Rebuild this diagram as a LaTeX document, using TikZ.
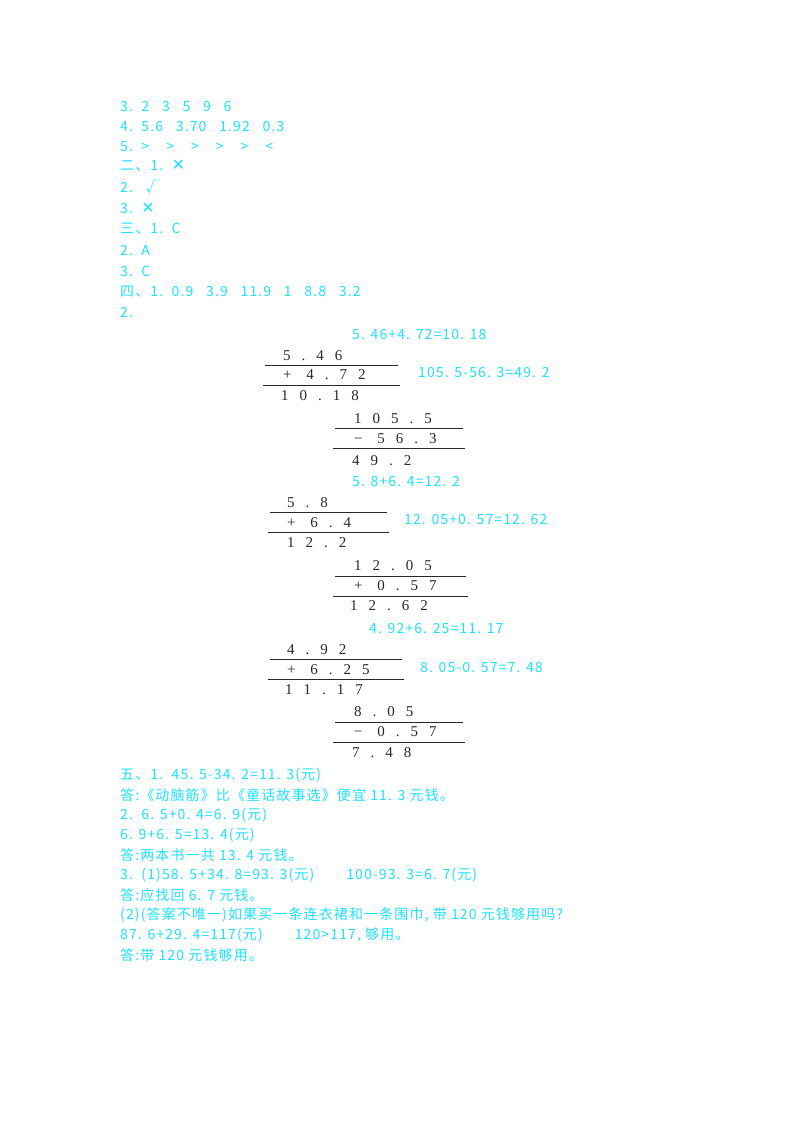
\documentclass[tikz,border=0pt]{standalone}
\usepackage{fontspec}
\setmainfont{Liberation Serif}
\newfontfamily\cjk[LetterSpace=8]{Noto Sans CJK SC}
\newfontfamily\djv{DejaVu Sans}
\definecolor{cy}{RGB}{30,225,255}
\definecolor{dk}{RGB}{40,40,40}
\newcommand{\g}{\hspace{11pt}}
\newcommand{\xx}{{\djv\fontsize{16}{16}\selectfont\textbf{✕}}}
\begin{document}
\begin{tikzpicture}[x=1pt,y=-1pt,
  t/.style={anchor=west,inner sep=0pt,text=cy,font=\cjk\fontsize{14}{14}\selectfont},
  d/.style={anchor=west,inner sep=0pt,text=dk,font=\fontsize{15}{15}\selectfont},
  r/.style={dk,line width=0.9pt}]
\useasboundingbox (0,0) rectangle (800,1132);
\node[t] (l1) at (120,107) {3.\ \ 2\ \ \ 3\ \ \ 5\ \ \ 9\ \ \ 6};
\node[t] (l2) at (120,127) {4.\ \ 5.6\ \ \ 3.70\ \ \ 1.92\ \ \ 0.3};
\node[t] (l3) at (120,147) {5.\ \ >\ \ \ \ >\ \ \ \ >\ \ \ \ >\ \ \ \ >\ \ \ \ <};
\node[t] (l4) at (120,166) {二、1.\ \ \xx};
\node[t] (l5) at (120,187) {2.\ \ \ √};
\node[t] (l6) at (120,208) {3.\ \ \xx};
\node[t] (l7) at (120,229) {三、1.\ \ C};
\node[t] (l8) at (120,250) {2.\ \ A};
\node[t] (l9) at (120,271) {3.\ \ C};
\node[t] (l10) at (120,292) {四、1.\ \ 0.9\ \ \ 3.9\ \ \ 11.9\ \ \ 1\ \ \ 8.8\ \ \ 3.2};
\node[t] (l11) at (120,313) {2.};
% block 1
\node[t] (a0) at (352,335) {5. 46+4. 72=10. 18};
\node[d] (a1) at (283,356) {5\g.\g4\g6};
\draw[r] (265,365) -- (398,365);
\node[d] (a2) at (283,375) {+\g\ 4\g.\g7\g2};
\draw[r] (263,385) -- (400,385);
\node[d] (a3) at (281,396) {1\g0\g.\g1\g8};
\node[t] (b0) at (418,373) {105. 5-56. 3=49. 2};
\node[d] (b1) at (354,419) {1\g0\g5\g.\g5};
\draw[r] (335,428) -- (463,428);
\node[d] (b2) at (354,439) {−\g\ 5\g6\g.\g3};
\draw[r] (333,448) -- (465,448);
\node[d] (b3) at (352,461) {4\g9\g.\g2};
% block 3
\node[t] (c0) at (352,482) {5. 8+6. 4=12. 2};
\node[d] (c1) at (287,503) {5\g.\g8};
\draw[r] (270,512) -- (387,512);
\node[d] (c2) at (287,523) {+\g\ 6\g.\g4};
\draw[r] (268,532) -- (389,532);
\node[d] (c3) at (287,543) {1\g2\g.\g2};
\node[t] (e0) at (404,520) {12. 05+0. 57=12. 62};
\node[d] (e1) at (354,566) {1\g2\g.\g0\g5};
\draw[r] (335,576) -- (466,576);
\node[d] (e2) at (354,586) {+\g\ 0\g.\g5\g7};
\draw[r] (333,596) -- (468,596);
\node[d] (e3) at (350,606) {1\g2\g.\g6\g2};
% block 5
\node[t] (f0) at (369,629) {4. 92+6. 25=11. 17};
\node[d] (f1) at (287,650) {4\g.\g9\g2};
\draw[r] (270,659) -- (402,659);
\node[d] (f2) at (287,670) {+\g\ 6\g.\g2\g5};
\draw[r] (268,679) -- (404,679);
\node[d] (f3) at (285,690) {1\g1\g.\g1\g7};
\node[t] (g0) at (420,668) {8. 05-0. 57=7. 48};
\node[d] (g1) at (354,712) {8\g.\g0\g5};
\draw[r] (335,722) -- (463,722);
\node[d] (g2) at (354,732) {−\g\ 0\g.\g5\g7};
\draw[r] (333,742) -- (465,742);
\node[d] (g3) at (352,753) {7\g.\g4\g8};
% section 5
\node[t] (m1) at (120,775) {五、1.\ \ 45. 5-34. 2=11. 3(元)};
\node[t] (m2) at (120,795) {答:《动脑筋》比《童话故事选》便宜 11. 3 元钱。};
\node[t] (m3) at (120,815) {2.\ \ 6. 5+0. 4=6. 9(元)};
\node[t] (m4) at (120,835) {6. 9+6. 5=13. 4(元)};
\node[t] (m5) at (120,855) {答:两本书一共 13. 4 元钱。};
\node[t] (m6) at (120,875) {3.\ \ (1)58. 5+34. 8=93. 3(元)\hspace{32pt}100-93. 3=6. 7(元)};
\node[t] (m7) at (120,895) {答:应找回 6. 7 元钱。};
\node[t] (m8) at (120,915) {(2)(答案不唯一)如果买一条连衣裙和一条围巾, 带 120 元钱够用吗?};
\node[t] (m9) at (120,935) {87. 6+29. 4=117(元)\hspace{32pt}120>117, 够用。};
\node[t] (m10) at (120,955) {答:带 120 元钱够用。};
\end{tikzpicture}
\end{document}
